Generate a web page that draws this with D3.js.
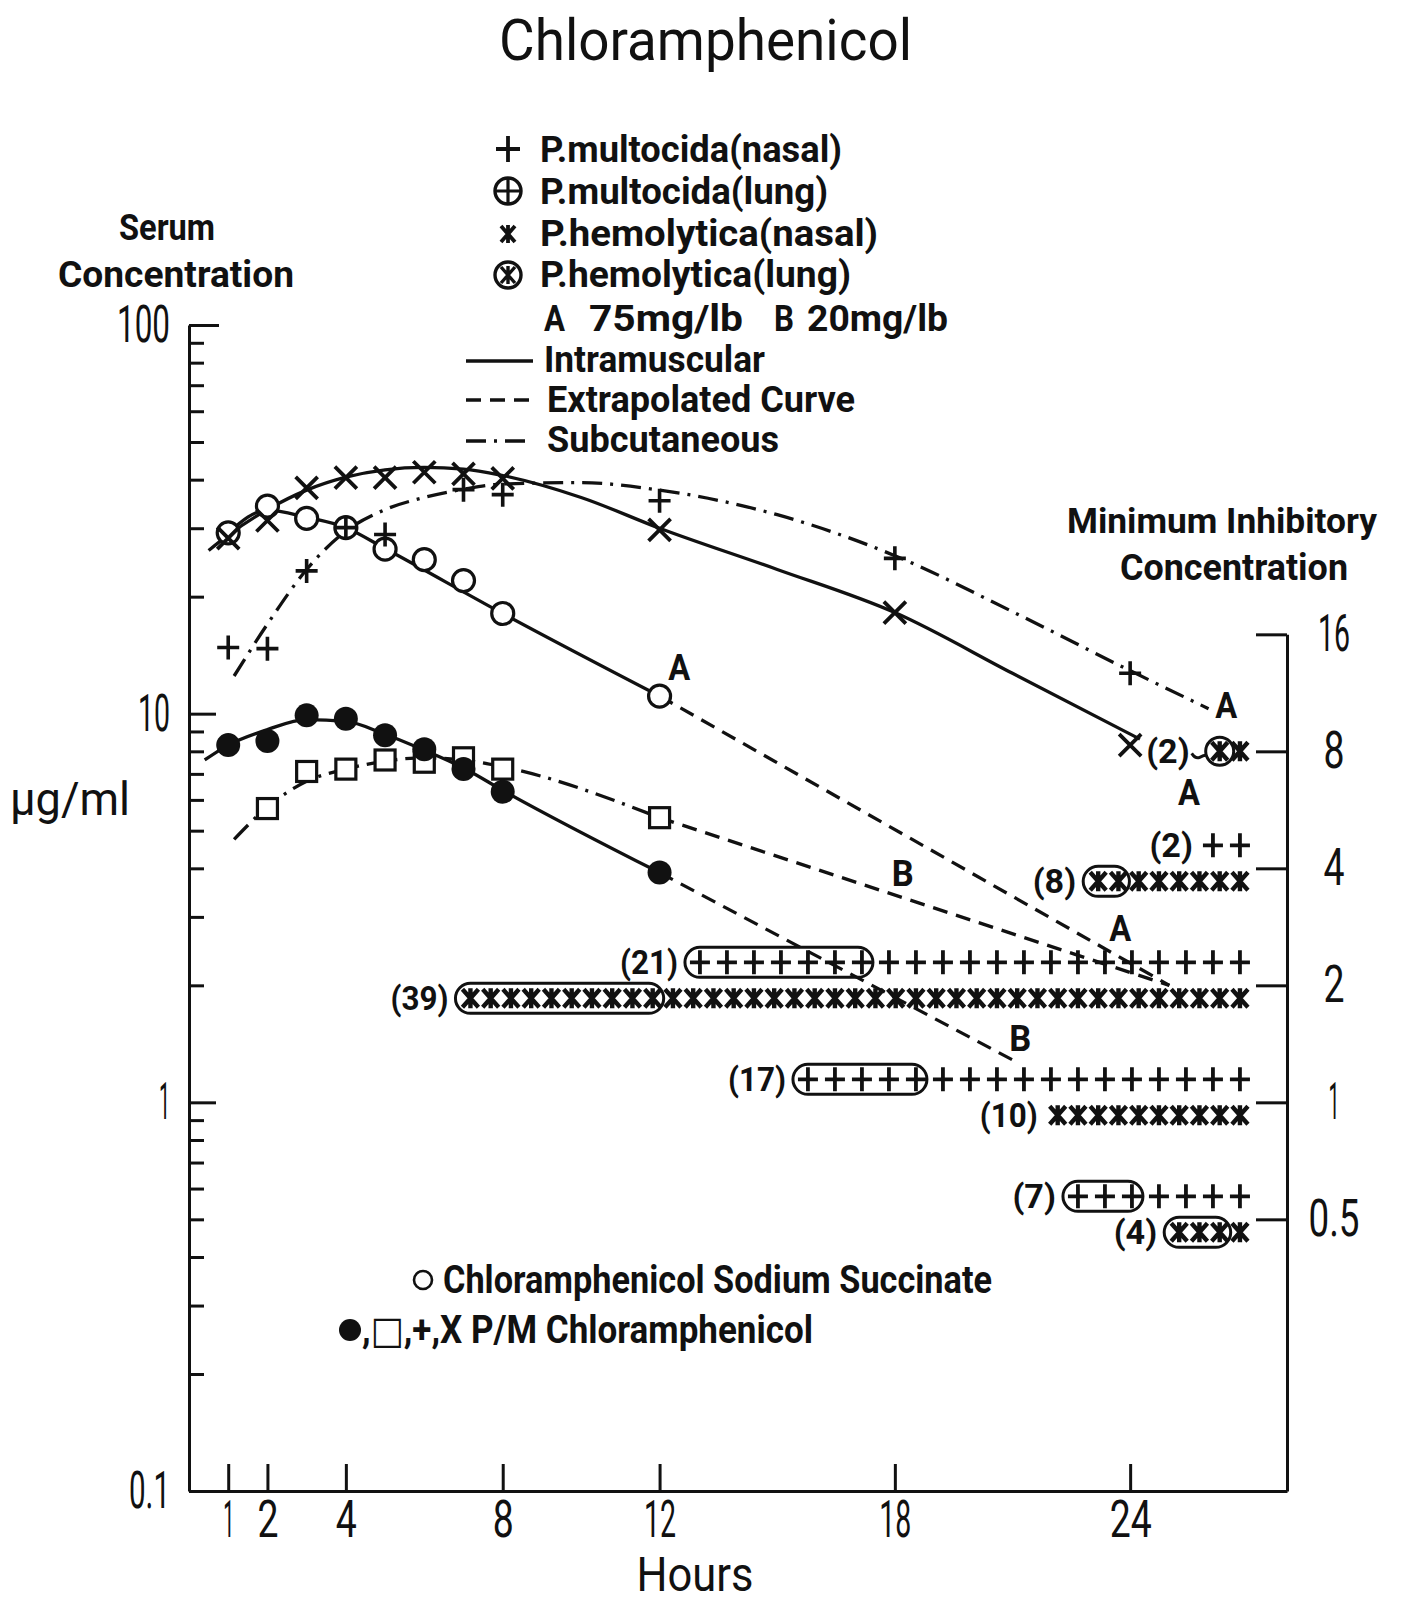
<!DOCTYPE html>
<html>
<head>
<meta charset="utf-8">
<title>Chloramphenicol</title>
<script src="https://cdn.jsdelivr.net/npm/d3@7"></script>
<style>
  html, body { margin: 0; padding: 0; background: #fff; }
  svg { display: block; }
</style>
</head>
<body>
<svg id="chart" width="1401" height="1607"></svg>
<script>
// ---------- axis values ----------
const hourTicks = [1, 2, 4, 8, 12, 18, 24];
const concLabels = [100, 10, 1, 0.1];
const concLabelText = ["100", "10", "1", "0.1"];
const micTicks = [16, 8, 4, 2, 1, 0.5];
const micTickText = ["16", "8", "4", "2", "1", "0.5"];

// Chloramphenicol sodium succinate, intramuscular, 75 mg/lb (open circles)
const succHours  = [1, 2, 3, 4, 5, 6, 7, 8, 12];
const succValues = [29.2, 34.2, 31.8, 30.1, 26.5, 24.9, 22.0, 18.1, 11.1];
const succCurveHours  = [1, 2, 3, 4, 5, 8, 12];
const succCurveValues = [29.2, 33.4, 32.0, 30.1, 26.6, 18.1, 11.1];
const succExtrapHours  = [12, 25];
const succExtrapValues = [11.1, 2.0];

// P/M chloramphenicol, intramuscular, 75 mg/lb (X)
const imHighHours  = [1, 2, 3, 4, 5, 6, 7, 8, 12, 18, 24];
const imHighValues = [28.3, 31.4, 38.1, 40.5, 40.5, 41.8, 41.4, 40.3, 29.7, 18.2, 8.3];
const imHighCurveHours  = [0.5, 1, 2, 3, 4, 5, 6, 7, 8, 10, 12, 15, 18, 21, 24.25];
const imHighCurveValues = [26.3, 28.8, 33.5, 37.6, 40.6, 42.4, 43.0, 42.6, 41.0, 36.0, 30.0, 23.5, 18.2, 12.7, 8.6];

// P/M chloramphenicol, subcutaneous, 75 mg/lb (+)
const scHighHours  = [1, 2, 3, 4, 5, 7, 8, 12, 18, 24];
const scHighValues = [14.8, 14.7, 23.3, 30.1, 28.9, 37.7, 36.6, 35.3, 25.1, 12.7];
const scHighCurveHours  = [1.15, 2, 3, 4, 5, 6, 7, 8, 10, 12, 15, 18, 21, 24, 26];
const scHighCurveValues = [12.5, 17.0, 23.5, 29.5, 33.5, 36.0, 37.8, 39.0, 39.3, 37.6, 32.5, 25.5, 18.3, 12.9, 10.3];

// P/M chloramphenicol, intramuscular, 20 mg/lb (filled circles)
const imLowHours  = [1, 2, 3, 4, 5, 6, 7, 8, 12];
const imLowValues = [8.3, 8.5, 9.9, 9.7, 8.8, 8.1, 7.2, 6.3, 3.9];
const imLowCurveHours  = [0.4, 1, 2, 3, 4, 5, 6, 7, 8, 12];
const imLowCurveValues = [7.6, 8.3, 9.1, 9.65, 9.55, 8.85, 8.05, 7.25, 6.35, 3.9];
const imLowExtrapHours  = [12, 21.1];
const imLowExtrapValues = [3.9, 1.27];

// P/M chloramphenicol, subcutaneous, 20 mg/lb (open squares)
const scLowHours  = [2, 3, 4, 5, 6, 7, 8, 12];
const scLowValues = [5.7, 7.1, 7.2, 7.6, 7.5, 7.7, 7.2, 5.4];
const scLowCurveHours  = [1.15, 2, 3, 4, 5, 6, 7, 8, 12];
const scLowCurveValues = [4.75, 5.75, 6.7, 7.2, 7.55, 7.7, 7.6, 7.3, 5.4];
const scLowExtrapHours  = [12, 25];
const scLowExtrapValues = [5.4, 2.0];

// dose labels placed beside the curves
const doseText   = ["A", "A", "B", "B", "A", "A"];
const doseHours  = [12.5, 23.75, 18.2, 21.2, 26.45, 25.5];
const doseValues = [13.2, 2.8, 3.9, 1.46, 10.5, 6.3];

// MIC distribution of isolates, read on the right-hand scale
const micLevel        = [8, 4, 4, 2, 2, 1, 1, 0.5, 0.5];
const micOrganism     = ["hemolytica", "multocida", "hemolytica", "multocida", "hemolytica",
                         "multocida", "hemolytica", "multocida", "hemolytica"];
const micIsolates     = [2, 2, 8, 21, 39, 17, 10, 7, 4];
const micLungIsolates = [1, 0, 2, 7, 10, 5, 0, 3, 3];

// ---------- drawing ----------
const INK = "#111";
const FONT = "Roboto, 'Open Sans', 'DejaVu Sans', sans-serif";
const svg = d3.select("#chart");
svg.append("rect").attr("width", 1401).attr("height", 1607).attr("fill", "#fff");

const x = d3.scaleLinear().domain([0, 28]).range([189, 1287]);
const y = d3.scaleLog().domain([0.1, 100]).range([1491, 325]);
const yMic = y.copy().domain([0.1, 16]).range([y(0.1), y(16)]);

function txt(parent, s, px, py, size, width, opts = {}) {
  const t = parent.append("text")
    .attr("x", px).attr("y", py)
    .attr("font-family", FONT).attr("font-size", size)
    .attr("font-weight", opts.weight || "bold")
    .attr("text-anchor", opts.anchor || "start")
    .attr("fill", INK)
    .text(s);
  if (opts.dy) t.attr("dy", opts.dy);
  if (width) t.attr("textLength", width).attr("lengthAdjust", "spacingAndGlyphs");
  return t;
}

// width of a numeric label in the hand-lettered style
function numWidth(s) {
  let w = 0;
  for (const c of s) w += c === "1" ? 11 : c === "." ? 9 : 21;
  return w;
}
function styleAxis(g) {
  g.select(".domain").attr("stroke", INK).attr("stroke-width", 3);
  g.selectAll(".tick line").attr("stroke", INK).attr("stroke-width", 3);
  g.selectAll(".tick text")
    .attr("font-family", FONT).attr("font-size", 52).attr("font-weight", 400).attr("fill", INK)
    .each(function () {
      const s = d3.select(this).text();
      if (s) d3.select(this).attr("textLength", numWidth(s)).attr("lengthAdjust", "spacingAndGlyphs");
    });
}

// left (serum concentration) axis with log minor ticks
const leftTickValues = [];
[0.1, 1, 10].forEach(d => { for (let m = 1; m <= 9; m++) leftTickValues.push(+(d * m).toPrecision(3)); });
leftTickValues.push(100);
const gLeft = svg.append("g").attr("transform", `translate(${x(0)},0)`)
  .call(d3.axisLeft(y).tickValues(leftTickValues).tickSizeInner(-15).tickSizeOuter(0).tickPadding(19)
    .tickFormat(d => { const i = concLabels.indexOf(d); return i >= 0 ? concLabelText[i] : ""; }));
styleAxis(gLeft);
gLeft.selectAll(".tick line").attr("x2", d => d === 100 ? 30 : (concLabels.includes(d) ? 27 : 15));

// bottom (hours) axis
const gBottom = svg.append("g").attr("transform", `translate(0,${y(0.1)})`)
  .call(d3.axisBottom(x).tickValues(hourTicks).tickSizeInner(-27).tickSizeOuter(0).tickPadding(9));
styleAxis(gBottom);

// right (minimum inhibitory concentration) axis
const gRight = svg.append("g").attr("transform", `translate(${x(28)},0)`)
  .call(d3.axisRight(yMic).tickValues(micTicks).tickSizeInner(-31).tickSizeOuter(0).tickPadding(47)
    .tickFormat(d => micTickText[micTicks.indexOf(d)]));
styleAxis(gRight);
gRight.selectAll(".tick text").attr("text-anchor", "middle");

// ---------- curves ----------
const SOLID = null, DASH = "15,9", DASHDOT = "20,8,3,8";
function curve(hours, values, dash, smooth) {
  const pts = hours.map((h, i) => [h, values[i]]);
  const gen = d3.line().x(d => x(d[0])).y(d => y(d[1]))
    .curve(smooth ? d3.curveMonotoneX : d3.curveLinear);
  const p = svg.append("path").datum(pts).attr("d", gen)
    .attr("fill", "none").attr("stroke", INK).attr("stroke-width", 3.3)
    .attr("stroke-linecap", "butt").attr("stroke-linejoin", "round");
  if (dash) p.attr("stroke-dasharray", dash);
  return p;
}
curve(imHighCurveHours, imHighCurveValues, SOLID, true);
curve(succCurveHours, succCurveValues, SOLID, true);
curve(succExtrapHours, succExtrapValues, DASH, false);
curve(scHighCurveHours, scHighCurveValues, DASHDOT, true);
curve(imLowCurveHours, imLowCurveValues, SOLID, true);
curve(imLowExtrapHours, imLowExtrapValues, DASH, false);
curve(scLowCurveHours, scLowCurveValues, DASHDOT, true);
curve(scLowExtrapHours, scLowExtrapValues, DASH, false);

// ---------- point markers ----------
const CROSS = "M-11,-11L11,11M-11,11L11,-11";
const PLUS = "M-11,0H11M0,-12V12";
const STAR = "M0,-10V10M-8,-9L8,9M-8,9L8,-9";

function pts(hours, values) { return hours.map((h, i) => [x(h), y(values[i])]); }

svg.append("g").selectAll("rect").data(pts(scLowHours, scLowValues)).join("rect")
  .attr("x", d => d[0] - 10).attr("y", d => d[1] - 10).attr("width", 20).attr("height", 20)
  .attr("fill", "#fff").attr("stroke", INK).attr("stroke-width", 3.2);
svg.append("g").selectAll("circle").data(pts(imLowHours, imLowValues)).join("circle")
  .attr("cx", d => d[0]).attr("cy", d => d[1]).attr("r", 12).attr("fill", INK);
svg.append("g").selectAll("circle").data(pts(succHours, succValues)).join("circle")
  .attr("cx", d => d[0]).attr("cy", d => d[1]).attr("r", 11)
  .attr("fill", "#fff").attr("stroke", INK).attr("stroke-width", 3.2);
svg.append("g").selectAll("path").data(pts(imHighHours, imHighValues)).join("path")
  .attr("transform", d => `translate(${d[0]},${d[1]})`).attr("d", CROSS)
  .attr("stroke", INK).attr("stroke-width", 3.8).attr("fill", "none");
svg.append("g").selectAll("path").data(pts(scHighHours, scHighValues)).join("path")
  .attr("transform", d => `translate(${d[0]},${d[1]})`).attr("d", PLUS)
  .attr("stroke", INK).attr("stroke-width", 3.6).attr("fill", "none");

// dose letters
const gDose = svg.append("g");
doseText.forEach((s, i) => {
  txt(gDose, s, x(doseHours[i]), y(doseValues[i]), 36, 22, { anchor: "middle", dy: "0.36em" });
});

// ---------- MIC isolate rows ----------
const gMic = svg.append("g");
micLevel.forEach((lvl, i) => {
  const shared = micLevel.filter(v => v === lvl).length;
  const isMulto = micOrganism[i] === "multocida";
  const side = shared === 1 ? 0 : (isMulto ? -1 : 1);
  const ry = yMic(lvl) + (side < 0 ? -23 : side > 0 ? 13 : 0);
  const step = isMulto ? 27 : 20.25;
  const n = micIsolates[i];
  const end = x(26.8);
  const xs = d3.range(n).map(k => end - (n - 1 - k) * step);
  gMic.append("g").selectAll("path").data(xs).join("path")
    .attr("transform", d => `translate(${d},${ry})`)
    .attr("d", isMulto ? "M-10,0H10M0,-12V12" : STAR)
    .attr("stroke", INK).attr("stroke-width", isMulto ? 3.8 : 4.4).attr("fill", "none");
  const lung = micLungIsolates[i];
  let labelEnd = xs[0] - 20;
  if (lung > 1) {
    const left = xs[0] - 15, right = xs[lung - 1] + 11;
    gMic.append("rect").attr("x", left).attr("y", ry - 15)
      .attr("width", right - left).attr("height", 30).attr("rx", 15)
      .attr("fill", "none").attr("stroke", INK).attr("stroke-width", 3);
    labelEnd = left - 7;
  } else if (lung === 1) {
    gMic.append("circle").attr("cx", xs[0]).attr("cy", ry).attr("r", 14)
      .attr("fill", "none").attr("stroke", INK).attr("stroke-width", 3);
    const l = xs[0] - 14;
    gMic.append("path").attr("d", `M${l - 14},${ry + 2}q4,6 8,4t6,-2`)
      .attr("fill", "none").attr("stroke", INK).attr("stroke-width", 3);
    labelEnd = l - 16;
  }
  const lab = `(${n})`;
  txt(gMic, lab, labelEnd, ry, 33, lab.length * 14.5, { anchor: "end", dy: "0.36em" });
});

// ---------- titles ----------
txt(svg, "Chloramphenicol", 499, 60, 58, 413, { weight: "normal" });
txt(svg, "Serum", 119, 240, 36, 96);
txt(svg, "Concentration", 58, 287, 36, 236);
txt(svg, "\u03bcg/ml", 10, 815, 46, 120, { weight: "normal" });
txt(svg, "Minimum Inhibitory", 1067, 533, 35, 310);
txt(svg, "Concentration", 1120, 580, 36, 228);
txt(svg, "Hours", 695, 1591, 48, 117, { weight: "normal", anchor: "middle" });

// ---------- symbol / line legend ----------
const gLeg = svg.append("g");
const lx = 508;
gLeg.append("path").attr("transform", `translate(${lx},149)`).attr("d", "M-12,0H12M0,-13V13")
  .attr("stroke", INK).attr("stroke-width", 3.8);
gLeg.append("circle").attr("cx", lx).attr("cy", 191).attr("r", 13)
  .attr("fill", "none").attr("stroke", INK).attr("stroke-width", 3.4);
gLeg.append("path").attr("transform", `translate(${lx},191)`).attr("d", "M-13,0H13M0,-13V13")
  .attr("stroke", INK).attr("stroke-width", 3.2);
gLeg.append("path").attr("transform", `translate(${lx},234)`).attr("d", "M0,-9V9M-7,-8L7,8M-7,8L7,-8")
  .attr("stroke", INK).attr("stroke-width", 3.8);
gLeg.append("circle").attr("cx", lx).attr("cy", 275).attr("r", 13)
  .attr("fill", "none").attr("stroke", INK).attr("stroke-width", 3.4);
gLeg.append("path").attr("transform", `translate(${lx},275)`).attr("d", "M0,-9V9M-7,-8L7,8M-7,8L7,-8")
  .attr("stroke", INK).attr("stroke-width", 3.4);

txt(gLeg, "P.multocida(nasal)", 540, 162, 37, 302);
txt(gLeg, "P.multocida(lung)", 540, 204, 37, 288);
txt(gLeg, "P.hemolytica(nasal)", 540, 246, 37, 338);
txt(gLeg, "P.hemolytica(lung)", 540, 287, 37, 311);
txt(gLeg, "A", 544, 331, 37, 21);
txt(gLeg, "75mg/lb", 589, 331, 37, 154);
txt(gLeg, "B", 774, 331, 37, 20);
txt(gLeg, "20mg/lb", 807, 331, 37, 141);

[[361, SOLID], [400, DASH], [441, DASHDOT]].forEach(([ly, dash]) => {
  const l = gLeg.append("line").attr("x1", 466).attr("x2", 533).attr("y1", ly).attr("y2", ly)
    .attr("stroke", INK).attr("stroke-width", 3.4);
  if (dash) l.attr("stroke-dasharray", dash);
});
txt(gLeg, "Intramuscular", 544, 372, 37, 221);
txt(gLeg, "Extrapolated Curve", 547, 412, 37, 308);
txt(gLeg, "Subcutaneous", 547, 452, 37, 232);

// ---------- formulation legend ----------
svg.append("circle").attr("cx", 423).attr("cy", 1280).attr("r", 9)
  .attr("fill", "none").attr("stroke", INK).attr("stroke-width", 2.6);
txt(svg, "Chloramphenicol Sodium Succinate", 443, 1293, 38, 549);
svg.append("circle").attr("cx", 350).attr("cy", 1330).attr("r", 11).attr("fill", INK);
txt(svg, ",\u25a1,+,X P/M Chloramphenicol", 362, 1343, 38, 451);
</script>
</body>
</html>
